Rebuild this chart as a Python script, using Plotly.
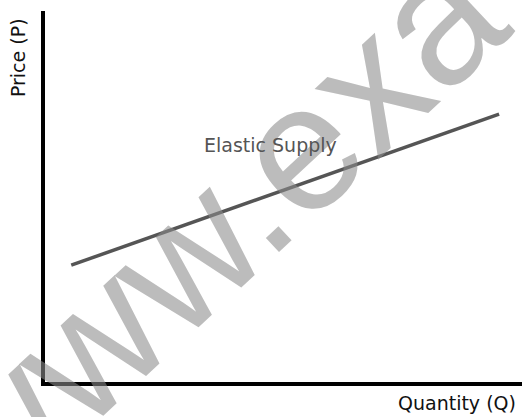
import plotly.graph_objects as go

# Data
quantity = [0.55, 9.52]
price = [3.15, 7.22]
curve_label = "Elastic Supply"
x_label = "Quantity (Q)"
y_label = "Price (P)"
watermark = "www.exa"

fig = go.Figure()
fig.add_trace(go.Scatter(
    x=quantity, y=price, mode="lines",
    line=dict(color="#555555", width=3.5),
    hoverinfo="skip", showlegend=False,
))

annotations = [
    dict(text=watermark, xref="paper", yref="paper", x=0.345, y=0.405,
         xanchor="center", yanchor="middle", showarrow=False, textangle=-43,
         font=dict(family="Arial, Liberation Sans", size=180, color="rgba(140,140,140,0.58)")),
    dict(text=curve_label, x=4.72, y=6.39, xref="x", yref="y", showarrow=False,
         font=dict(family="DejaVu Sans", size=19, color="#555555")),
    dict(text=y_label, xref="paper", yref="paper", x=-0.0566, y=0.873,
         xanchor="center", yanchor="middle", showarrow=False, textangle=-90,
         font=dict(family="DejaVu Sans", size=19, color="#111111")),
    dict(text=x_label, xref="paper", yref="paper", x=0.864, y=-0.0566,
         xanchor="center", yanchor="middle", showarrow=False,
         font=dict(family="DejaVu Sans", size=19, color="#111111")),
]

fig.update_layout(
    width=522, height=417,
    margin=dict(l=45, r=0, t=11, b=35),
    paper_bgcolor="white", plot_bgcolor="white",
    xaxis=dict(range=[0, 10], showgrid=False, zeroline=False, showticklabels=False,
               ticks="", showline=True, linecolor="black", linewidth=4, fixedrange=True),
    yaxis=dict(range=[0, 10], showgrid=False, zeroline=False, showticklabels=False,
               ticks="", showline=True, linecolor="black", linewidth=4, fixedrange=True),
    annotations=annotations,
)

fig.write_html("out.html", config={"displayModeBar": False, "staticPlot": True},
               post_script="document.body.style.margin='0';document.body.style.overflow='hidden';")
